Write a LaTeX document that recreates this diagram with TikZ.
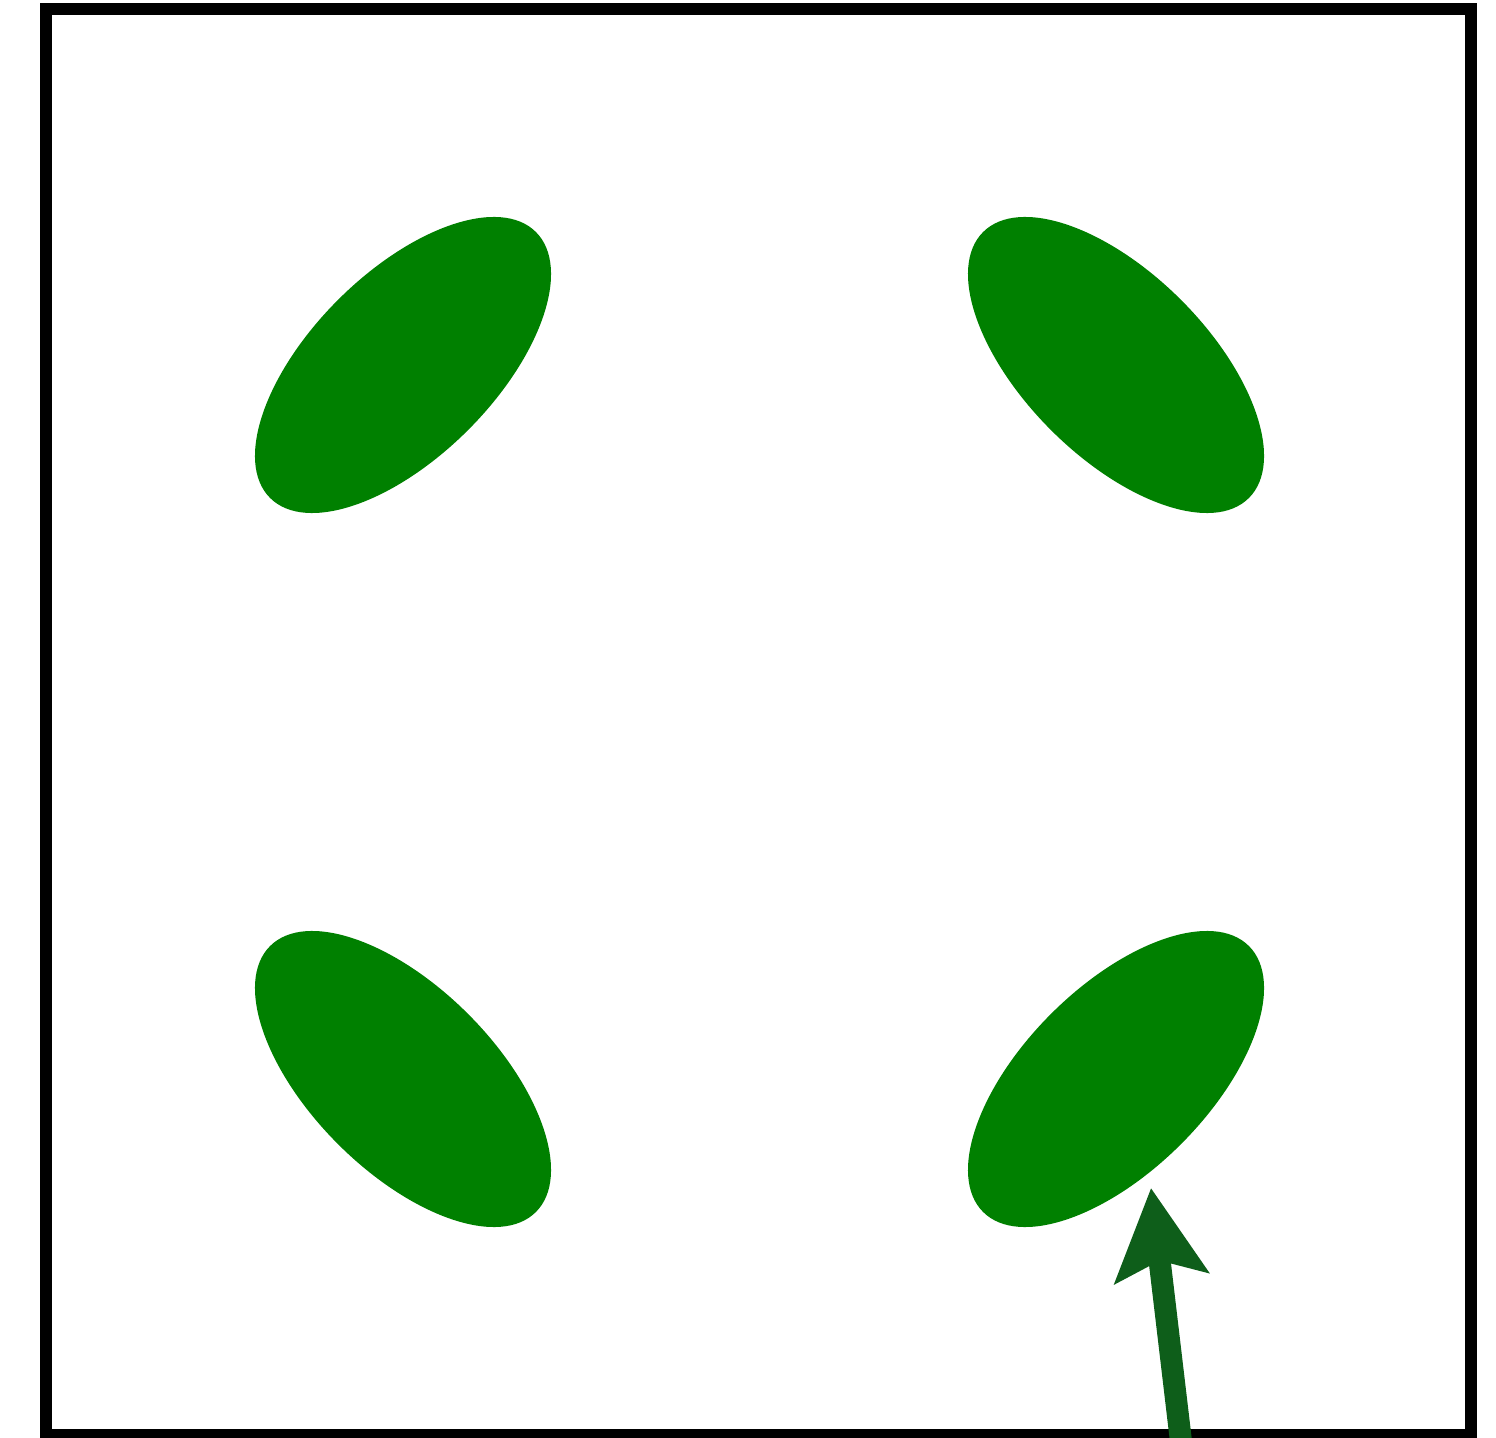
\documentclass[tikz,border=0pt]{standalone}
\usepackage{xcolor}
\usepackage{tikz}
\usetikzlibrary{shapes.geometric,arrows.meta}

\definecolor{leafgreen}{RGB}{0,128,0}
\definecolor{pointergreen}{RGB}{14,94,26}

\begin{document}
\begin{tikzpicture}[
    blob/.style={ellipse, fill=leafgreen, inner sep=0pt, minimum width=3.76cm, minimum height=1.84cm},
    boxframe/.style={draw=black, line width=0.12cm},
    pointer/.style={-{Stealth[length=0.9cm, width=0.93cm, inset=0.17cm]}, line width=0.22cm, draw=pointergreen}
]
    \useasboundingbox (0,0) rectangle (14.96,14.37);
    \draw [boxframe] (0.46,0.02) rectangle (14.71,14.28);

    \node [blob, rotate=45]  (tl) at (4.03,10.72) {};
    \node [blob, rotate=-45] (tr) at (11.16,10.72) {};
    \node [blob, rotate=-45] (bl) at (4.03,3.58) {};
    \node [blob, rotate=45]  (br) at (11.16,3.58) {};

    \coordinate (tail) at (11.82,-0.13);
    \coordinate (tip) at (11.51,2.49);
    \draw [pointer] (tail) -- (tip);
\end{tikzpicture}
\end{document}
